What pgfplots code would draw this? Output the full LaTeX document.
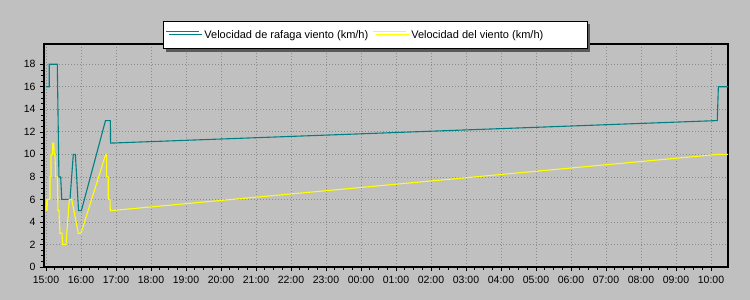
\documentclass[border=0pt]{standalone}
\usepackage{pgfplots}
\pgfplotsset{compat=1.18}
\usepackage{fontspec}
\setmainfont{Liberation Sans}
\usetikzlibrary{shadows}
\definecolor{bgc}{HTML}{C0C0C0}
\definecolor{gust}{HTML}{008080}
\definecolor{wind}{HTML}{FFFF00}
\definecolor{gridc}{HTML}{8C8C8C}
\begin{document}
\begin{tikzpicture}
\fill[bgc] (0,0) rectangle (750pt,300pt);
\begin{axis}[
  at={(44pt,33pt)}, anchor=south west,
  scale only axis, width=684pt, height=223pt,
  xmin=-0.057, xmax=19.486, ymin=0, ymax=19.8,
  axis background/.style={fill=bgc},
  axis line style={black, line width=1.5pt},
  xtick={0,1,...,19},
  xticklabels={15:00,16:00,17:00,18:00,19:00,20:00,21:00,22:00,23:00,00:00,01:00,02:00,03:00,04:00,05:00,06:00,07:00,08:00,09:00,10:00},
  ytick={0,2,...,18},
  minor x tick num=3, minor y tick num=3,
  tick align=outside, tick pos=left,
  major tick length=4pt, minor tick length=2.5pt,
  every tick/.style={black, line width=0.6pt},
  grid=major,
  major grid style={gridc, line width=0.7pt, dash pattern=on 1pt off 2pt},
  tick label style={font=\fontsize{10.5}{12}\selectfont},
  /pgf/number format/assume math mode=true,
  xticklabel style={yshift=-2pt},
  yticklabel style={xshift=-1pt},
  legend columns=2,
  legend style={at={(axis description cs:0.174,1.1031)}, anchor=north west,
    draw=black, line width=0.8pt, fill=white,
    drop shadow={shadow xshift=3pt, shadow yshift=-3pt, fill=black!65, opacity=1},
    font=\fontsize{11}{13}\selectfont, inner xsep=2pt, inner ysep=7pt,
    /tikz/every odd column/.append style={column sep=3pt},
    /tikz/every even column/.append style={column sep=2pt}},
  legend image code/.code={\draw[#1, line width=1pt] (0pt,3.5pt) -- (33pt,3.5pt);},
]
\addplot[gust, line width=1.1pt] coordinates {
(0,16) (0.094,16) (0.094,18) (0.323,18) (0.37,8) (0.42,8) (0.45,6) (0.686,6)
(0.78,10) (0.84,10) (0.93,5) (1.01,5) (1.70,13) (1.84,13) (1.845,11)
(19.18,13) (19.21,16) (19.49,16)
};
\addlegendentry{Velocidad de rafaga viento (km/h)}
\addplot[wind, line width=1.1pt] coordinates {
(0,5) (0.02,6) (0.03,5) (0.04,6) (0.114,6) (0.114,8) (0.143,8) (0.143,10)
(0.19,10) (0.19,11) (0.22,11) (0.237,10) (0.257,10) (0.277,8) (0.323,8)
(0.343,5) (0.371,5) (0.4,3) (0.457,3) (0.477,2) (0.571,2) (0.666,6) (0.734,6)
(0.923,3) (1.0,3) (1.706,10) (1.734,10) (1.734,8) (1.78,8) (1.78,6) (1.83,6)
(1.837,5) (19.2,10) (19.49,10)
};
\addlegendentry{Velocidad del viento (km/h)\makebox[40pt]{}}
\end{axis}
\pgfresetboundingbox
\path (0,0) rectangle (750pt,300pt);
\end{tikzpicture}
\end{document}
